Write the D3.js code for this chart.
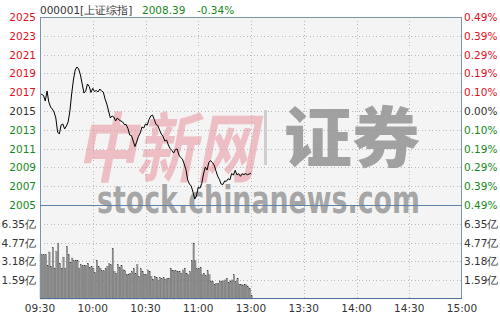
<!DOCTYPE html>
<html><head><meta charset="utf-8">
<script src="https://cdn.jsdelivr.net/npm/d3@7/dist/d3.min.js"></script>
<style>body{margin:0;background:#fff}svg{display:block}</style>
</head><body>
<script>
// ---- data ----
const stockName = "000001[上证综指]";
const lastPrice = "2008.39";
const lastChange = "-0.34%";
const timeLabels = ["09:30","10:00","10:30","11:00","13:00","13:30","14:00","14:30","15:00"];
const priceLabels = ["2025","2023","2021","2019","2017","2015","2013","2011","2009","2007","2005"];
const pctLabels = ["0.49%","0.39%","0.29%","0.19%","0.10%","0.00%","0.10%","0.19%","0.29%","0.39%","0.49%"];
const volLabels = ["6.35亿","4.77亿","3.18亿","1.59亿"];
const volTicks = [6.35,4.77,3.18,1.59];
const prices = [
2016.88,2016.76,2016.65,2016.06,2017.13,2015.96,2015.43,2015.21,2014.89,2014.26,
2012.77,2012.55,2013.51,2013.62,2013.09,2013.40,2013.83,2015.00,2016.81,2018.30,
2019.36,2019.68,2019.47,2018.83,2017.87,2016.91,2017.13,2017.87,2017.61,2016.97,
2017.41,2017.07,2017.18,2017.02,2017.34,2017.13,2017.02,2016.28,2015.74,2015.00,
2014.26,2014.47,2014.36,2013.94,2014.26,2014.04,2013.94,2013.83,2013.56,2013.56,
2013.14,2012.45,2012.39,2011.81,2011.22,2011.73,2012.29,2012.66,2013.30,2013.19,
2013.62,2013.51,2014.10,2014.47,2014.57,2014.10,2013.56,2013.46,2012.98,2012.55,
2012.29,2011.81,2011.91,2011.38,2011.01,2010.80,2010.53,2010.90,2010.96,2010.32,
2010.05,2009.89,2009.36,2008.78,2007.66,2007.23,2007.02,2006.38,2005.64,2005.96,
2006.91,2006.78,2007.31,2008.30,2009.04,2008.72,2009.52,2009.73,2009.52,2009.26,
2008.67,2008.09,2007.73,2007.23,2007.18,2007.55,2007.52,2007.79,2007.68,2008.35,
2008.19,2008.69,2008.21,2008.33,2008.05,2008.32,2008.24,2008.33,2008.22,2008.30,
2008.39];
const volumes = [
3.80,3.74,3.74,3.74,2.83,3.97,2.75,4.36,2.61,4.02,
4.67,3.03,2.61,3.54,2.61,4.42,3.74,3.12,3.46,3.23,
3.29,3.23,2.61,2.89,2.80,2.80,2.80,3.03,2.66,2.75,
2.61,2.24,3.26,2.75,2.61,2.38,2.38,2.55,2.75,2.97,
2.89,4.25,2.32,2.18,2.89,2.66,2.80,2.46,2.38,2.04,
2.10,2.18,2.32,2.61,2.18,2.89,1.90,2.55,2.32,2.10,
2.10,2.46,2.32,1.90,1.67,1.90,1.81,1.61,1.81,1.70,
1.81,1.67,1.76,1.76,2.61,2.38,2.38,2.38,2.32,2.32,
2.18,2.46,2.61,2.18,2.04,2.32,3.23,4.73,3.23,2.55,
2.61,2.66,2.04,2.18,1.98,2.38,2.04,1.53,1.47,1.25,
1.33,1.33,1.53,1.47,1.53,1.61,1.76,1.42,1.53,1.61,
2.04,1.47,1.76,1.25,1.25,1.19,1.25,1.19,1.05,0.91,
0.28];

// ---- layout ----
const W = 500, H = 316;
const L = 40, R = 462, T = 17, PB = 205, VB = 299;
const red = "#e0101c", green = "#16881a", gray = "#333";
const font = "DejaVu Sans, Tahoma, sans-serif";

const svg = d3.select("body").append("svg").attr("width", W).attr("height", H);

const x = d3.scaleLinear().domain([0, 240]).range([L, R]);
const yP = d3.scaleLinear().domain([2005, 2025]).range([PB, T]);
const yV = d3.scaleLinear().domain([0, 7.94]).range([VB, PB]);
const yIdx = d3.scaleLinear().domain([0, 10]).range([T, PB]);

// plot background
svg.append("rect").attr("x", L).attr("y", T).attr("width", R - L).attr("height", VB - T).attr("fill", "#f4f4f4");

// grid lines
const grid = svg.append("g").attr("stroke", "#b8b8b8").attr("stroke-width", 1).attr("stroke-dasharray", "1,2.5").attr("shape-rendering", "crispEdges");
d3.range(1, 10).forEach(k => {
  grid.append("line").attr("x1", L).attr("x2", R).attr("y1", Math.round(yIdx(k)) + 0.5).attr("y2", Math.round(yIdx(k)) + 0.5);
});
volTicks.forEach(v => {
  grid.append("line").attr("x1", L).attr("x2", R).attr("y1", Math.round(yV(v)) + 0.5).attr("y2", Math.round(yV(v)) + 0.5);
});
d3.range(1, 8).forEach(k => {
  const xx = Math.round(x(k * 30)) + 0.5;
  grid.append("line").attr("x1", xx).attr("x2", xx).attr("y1", T).attr("y2", VB);
});

// watermark
const wm = svg.append("g").attr("pointer-events", "none");
wm.append("text").attr("x", 76).attr("y", 176).text("中新网")
  .attr("font-family", "Noto Sans CJK SC").attr("font-weight", 700).attr("font-size", 76)
  .attr("textLength", 180).attr("lengthAdjust", "spacingAndGlyphs")
  .attr("fill", "#e8919a").attr("fill-opacity", 0.55).attr("font-style", "italic");
wm.append("rect").attr("x", 264).attr("y", 110).attr("width", 3).attr("height", 55).attr("fill", "#cfcfcf");
wm.append("text").attr("x", 284).attr("y", 162).text("证券")
  .attr("font-family", "Noto Sans CJK SC").attr("font-weight", 900).attr("font-size", 66)
  .attr("textLength", 136).attr("lengthAdjust", "spacingAndGlyphs")
  .attr("fill", "#8c8c8c").attr("fill-opacity", 0.8);
wm.append("text").attr("x", 97).attr("y", 213).text("stock.chinanews.com")
  .attr("font-family", "DejaVu Sans").attr("font-weight", 700).attr("font-size", 37)
  .attr("textLength", 323).attr("lengthAdjust", "spacingAndGlyphs")
  .attr("fill", "#8c8c8c").attr("fill-opacity", 0.75);

// volume bars
svg.append("g").selectAll("rect").data(volumes).join("rect")
  .attr("x", (d, i) => x(i))
  .attr("y", d => yV(d))
  .attr("width", 1.3)
  .attr("height", d => VB - yV(d))
  .attr("fill", "#959595")
  .attr("stroke", "#2e2e2e").attr("stroke-width", 0.25);

// price line
const line = d3.line().x((d, i) => x(i)).y(d => yP(d));
svg.append("path").datum(prices).attr("d", line).attr("fill", "none").attr("stroke", "#000").attr("stroke-width", 1);

// borders
const bc = "#7b95b3";
svg.append("rect").attr("x", L + 0.5).attr("y", T + 0.5).attr("width", R - L - 1).attr("height", VB - T - 1)
  .attr("fill", "none").attr("stroke", bc).attr("shape-rendering", "crispEdges");
svg.append("line").attr("x1", L).attr("x2", R).attr("y1", PB + 0.5).attr("y2", PB + 0.5).attr("stroke", "#5f82ab").attr("shape-rendering", "crispEdges");
svg.append("line").attr("x1", L).attr("x2", R).attr("y1", VB - 0.5).attr("y2", VB - 0.5).attr("stroke", "#4e6f99").attr("shape-rendering", "crispEdges");

// axis labels
const colorFor = k => k < 5 ? red : (k === 5 ? gray : green);
const lab = svg.append("g").attr("font-family", font).attr("font-size", 10.5).attr("dominant-baseline", "central");
priceLabels.forEach((t, k) => {
  lab.append("text").attr("x", 36).attr("y", yIdx(k)).attr("text-anchor", "end").attr("fill", colorFor(k)).text(t);
});
pctLabels.forEach((t, k) => {
  lab.append("text").attr("x", 464).attr("y", yIdx(k)).attr("text-anchor", "start").attr("fill", colorFor(k)).text(t);
});
volLabels.forEach((t, k) => {
  lab.append("text").attr("x", 36).attr("y", yV(volTicks[k])).attr("text-anchor", "end").attr("fill", gray).text(t);
  lab.append("text").attr("x", 464).attr("y", yV(volTicks[k])).attr("text-anchor", "start").attr("fill", gray).text(t);
});
timeLabels.forEach((t, k) => {
  lab.append("text").attr("x", x(k * 30)).attr("y", 308).attr("text-anchor", "middle").attr("fill", gray).text(t);
});

// header
const hd = svg.append("g").attr("font-family", font).attr("font-size", 10.5).attr("dominant-baseline", "central");
hd.append("text").attr("x", 40).attr("y", 9.5).attr("fill", gray).text(stockName);
hd.append("text").attr("x", 142).attr("y", 9.5).attr("fill", green).text(lastPrice);
hd.append("text").attr("x", 197).attr("y", 9.5).attr("fill", green).text(lastChange);
</script>
</body></html>
